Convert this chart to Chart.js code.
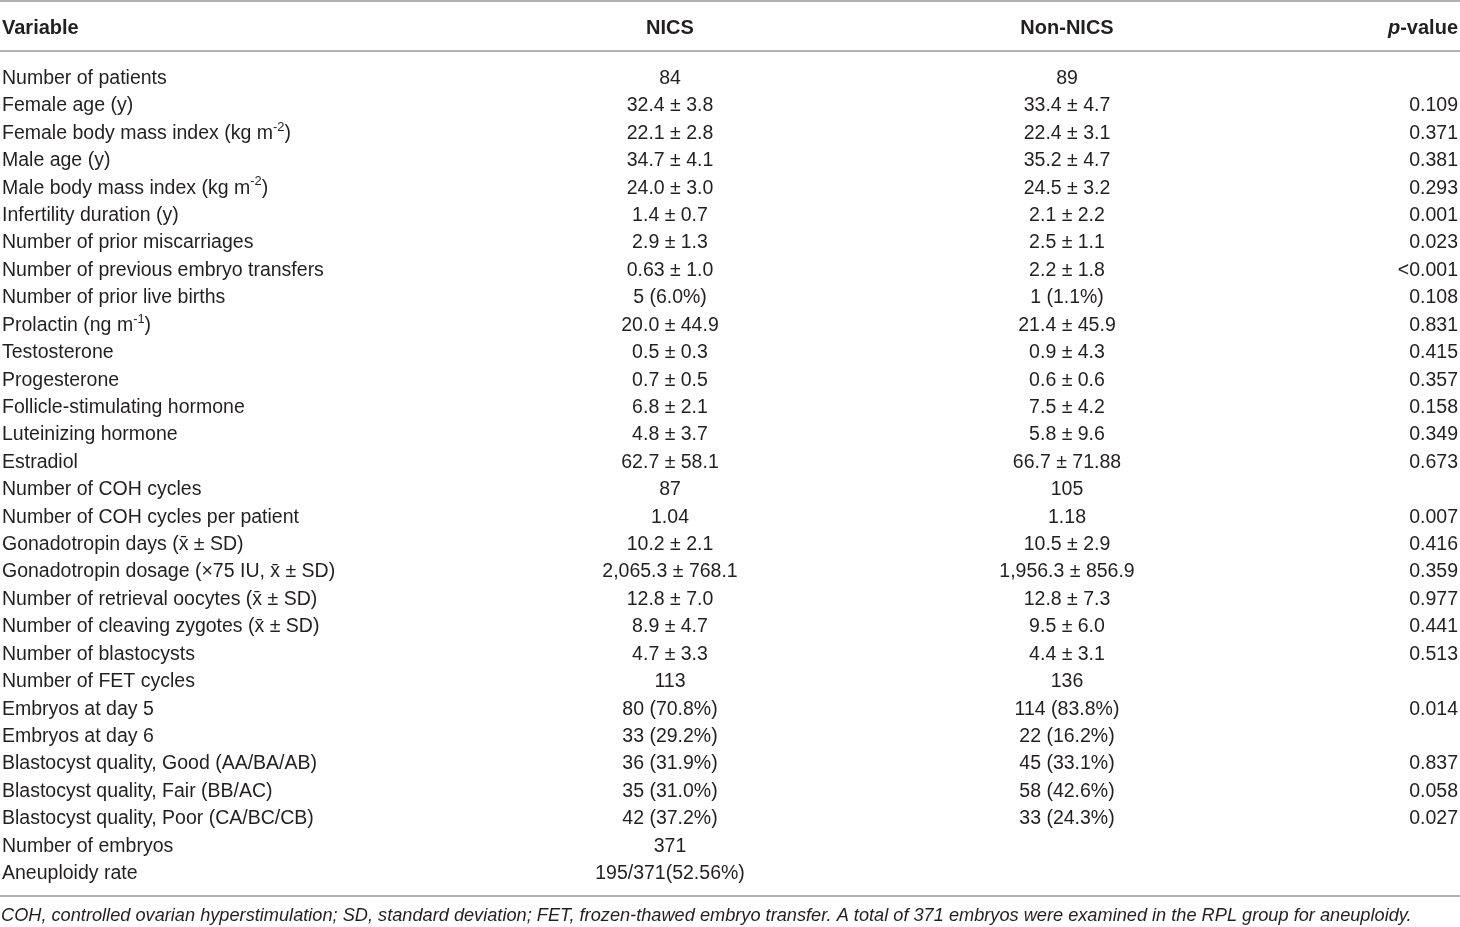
<!DOCTYPE html>
<html>
<head>
<meta charset="utf-8">
<script src="https://cdn.jsdelivr.net/npm/chart.js@4.4.0/dist/chart.umd.min.js"></script>
<style>
html,body{margin:0;padding:0;background:#fff;}
#wrap{width:1460px;height:927px;position:relative;}
</style>
</head>
<body>
<div id="wrap"><canvas id="c"></canvas></div>
<script>
// ---- data ----
const headers = ['Variable', 'NICS', 'Non-NICS', '*p*-value'];
const variables = [
  'Number of patients',
  'Female age (y)',
  'Female body mass index (kg m^{-2})',
  'Male age (y)',
  'Male body mass index (kg m^{-2})',
  'Infertility duration (y)',
  'Number of prior miscarriages',
  'Number of previous embryo transfers',
  'Number of prior live births',
  'Prolactin (ng m^{-1})',
  'Testosterone',
  'Progesterone',
  'Follicle-stimulating hormone',
  'Luteinizing hormone',
  'Estradiol',
  'Number of COH cycles',
  'Number of COH cycles per patient',
  'Gonadotropin days (x\u0304 \u00b1 SD)',
  'Gonadotropin dosage (\u00d775 IU, x\u0304 \u00b1 SD)',
  'Number of retrieval oocytes (x\u0304 \u00b1 SD)',
  'Number of cleaving zygotes (x\u0304 \u00b1 SD)',
  'Number of blastocysts',
  'Number of FET cycles',
  'Embryos at day 5',
  'Embryos at day 6',
  'Blastocyst quality, Good (AA/BA/AB)',
  'Blastocyst quality, Fair (BB/AC)',
  'Blastocyst quality, Poor (CA/BC/CB)',
  'Number of embryos',
  'Aneuploidy rate'
];
const nics = [
  '84', '32.4 \u00b1 3.8', '22.1 \u00b1 2.8', '34.7 \u00b1 4.1', '24.0 \u00b1 3.0',
  '1.4 \u00b1 0.7', '2.9 \u00b1 1.3', '0.63 \u00b1 1.0', '5 (6.0%)', '20.0 \u00b1 44.9',
  '0.5 \u00b1 0.3', '0.7 \u00b1 0.5', '6.8 \u00b1 2.1', '4.8 \u00b1 3.7', '62.7 \u00b1 58.1',
  '87', '1.04', '10.2 \u00b1 2.1', '2,065.3 \u00b1 768.1', '12.8 \u00b1 7.0',
  '8.9 \u00b1 4.7', '4.7 \u00b1 3.3', '113', '80 (70.8%)', '33 (29.2%)',
  '36 (31.9%)', '35 (31.0%)', '42 (37.2%)', '371', '195/371(52.56%)'
];
const nonNics = [
  '89', '33.4 \u00b1 4.7', '22.4 \u00b1 3.1', '35.2 \u00b1 4.7', '24.5 \u00b1 3.2',
  '2.1 \u00b1 2.2', '2.5 \u00b1 1.1', '2.2 \u00b1 1.8', '1 (1.1%)', '21.4 \u00b1 45.9',
  '0.9 \u00b1 4.3', '0.6 \u00b1 0.6', '7.5 \u00b1 4.2', '5.8 \u00b1 9.6', '66.7 \u00b1 71.88',
  '105', '1.18', '10.5 \u00b1 2.9', '1,956.3 \u00b1 856.9', '12.8 \u00b1 7.3',
  '9.5 \u00b1 6.0', '4.4 \u00b1 3.1', '136', '114 (83.8%)', '22 (16.2%)',
  '45 (33.1%)', '58 (42.6%)', '33 (24.3%)', '', ''
];
const pValues = [
  '', '0.109', '0.371', '0.381', '0.293',
  '0.001', '0.023', '<0.001', '0.108', '0.831',
  '0.415', '0.357', '0.158', '0.349', '0.673',
  '', '0.007', '0.416', '0.359', '0.977',
  '0.441', '0.513', '', '0.014', '',
  '0.837', '0.058', '0.027', '', ''
];
const footnote = 'COH, controlled ovarian hyperstimulation; SD, standard deviation; FET, frozen-thawed embryo transfer. A total of 371 embryos were examined in the RPL group for aneuploidy.';

// ---- layout / style (kept separate from data) ----
const FONT = '"Liberation Sans", Arial, sans-serif';
const TEXT_COLOR = '#231f20';
const RULE_COLOR = '#b2b2b2';
const BODY_SIZE = 19.5;
const HEAD_SIZE = 20;
const FOOT_SIZE = 18.2;
const columns = [
  { texts: variables, x: 2,    align: 'left' },
  { texts: nics,      x: 670,  align: 'center' },
  { texts: nonNics,   x: 1067, align: 'center' },
  { texts: pValues,   x: 1458, align: 'right' }
];

function parseRich(s) {
  const segs = [];
  let i = 0, buf = '', it = false;
  while (i < s.length) {
    if (s[i] === '^' && s[i+1] === '{') {
      if (buf) segs.push({t: buf, sup: false, it}); buf = '';
      const j = s.indexOf('}', i);
      segs.push({t: s.slice(i+2, j), sup: true, it});
      i = j + 1; continue;
    }
    if (s[i] === '*') {
      if (buf) segs.push({t: buf, sup: false, it}); buf = '';
      it = !it; i++; continue;
    }
    buf += s[i]; i++;
  }
  if (buf) segs.push({t: buf, sup: false, it});
  return segs;
}

function drawRich(ctx, s, x, y, align, size, weight) {
  const segs = parseRich(s);
  const fontFor = (seg) => `${seg.it ? 'italic ' : ''}${weight} ${seg.sup ? (size*0.66).toFixed(1) : size}px ${FONT}`;
  let total = 0;
  segs.forEach(seg => { ctx.font = fontFor(seg); seg.w = ctx.measureText(seg.t).width; total += seg.w; });
  let cx = align === 'left' ? x : align === 'right' ? x - total : x - total / 2;
  ctx.textAlign = 'left';
  ctx.textBaseline = 'alphabetic';
  segs.forEach(seg => {
    ctx.font = fontFor(seg);
    ctx.fillText(seg.t, cx, seg.sup ? y - size*0.42 : y);
    cx += seg.w;
  });
}

const tablePlugin = {
  id: 'tableText',
  afterDatasetsDraw(chart) {
    const ctx = chart.ctx;
    ctx.save();
    // rules
    ctx.fillStyle = RULE_COLOR;
    ctx.fillRect(0, 0, chart.width, 2);
    ctx.fillRect(0, 50, chart.width, 2);
    ctx.fillRect(0, 895, chart.width, 2);
    ctx.fillStyle = TEXT_COLOR;
    // header
    headers.forEach((h, c) => {
      drawRich(ctx, h, columns[c].x, 33.5, columns[c].align, HEAD_SIZE, 'bold');
    });
    // body cells, positioned by the chart's scales via dataset elements
    chart.data.datasets.forEach((ds, c) => {
      const meta = chart.getDatasetMeta(c);
      meta.data.forEach((el, i) => {
        const txt = ds.cellText[i];
        if (!txt) return;
        drawRich(ctx, txt, el.x, el.y, columns[c].align, BODY_SIZE, 'normal');
      });
    });
    // footnote
    ctx.font = `italic normal ${FOOT_SIZE}px ${FONT}`;
    ctx.textAlign = 'left';
    ctx.textBaseline = 'alphabetic';
    ctx.fillText(footnote, 1, 921);
    ctx.restore();
  }
};

const datasets = columns.map(col => ({
  data: col.texts.map((_, i) => ({ x: col.x, y: i })),
  cellText: col.texts,
  pointRadius: 0,
  pointHoverRadius: 0,
  showLine: false
}));

new Chart(document.getElementById('c'), {
  type: 'scatter',
  data: { datasets },
  options: {
    responsive: true,
    maintainAspectRatio: false,
    animation: false,
    events: [],
    layout: { padding: { top: 84, bottom: 48, left: 0, right: 0 } },
    plugins: { legend: { display: false }, tooltip: { enabled: false } },
    scales: {
      x: { type: 'linear', min: 0, max: 1460, display: false },
      y: { type: 'linear', min: 0, max: variables.length - 1, reverse: true, display: false }
    }
  },
  plugins: [tablePlugin]
});
</script>
</body>
</html>
